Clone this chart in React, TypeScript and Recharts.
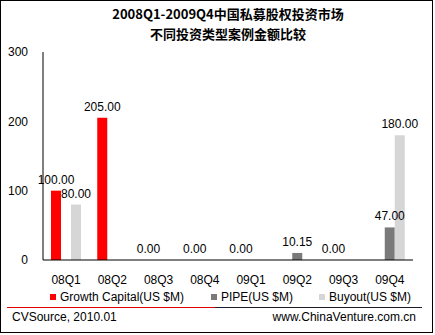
import { BarChart, Bar, XAxis, YAxis, LabelList } from 'recharts';

const quarters = ['08Q1', '08Q2', '08Q3', '08Q4', '09Q1', '09Q2', '09Q3', '09Q4'];
const growthCapital = [100, 205, 0, 0, 0, null, 0, null];
const pipe = [null, null, null, null, null, 10.15, null, 47];
const buyout = [80, null, null, null, null, null, null, 180];
const yTicks = [0, 100, 200, 300];

const data = quarters.map((q, i) => ({
  quarter: q,
  growth: growthCapital[i],
  pipe: pipe[i],
  buyout: buyout[i],
}));

const font = '"Liberation Sans", Arial, sans-serif';
const fmt = (v: any) => (v === null || v === undefined ? '' : Number(v).toFixed(2));
// zero-valued bars get a hair of height so their "0.00" label still shows
const zeroSize = (v: any) => (v === 0 ? 0.01 : 0);

const legendItems = [
  { name: 'Growth Capital(US $M)', color: '#ff0000', left: 50 },
  { name: 'PIPE(US $M)', color: '#7a7a7a', left: 211 },
  { name: 'Buyout(US $M)', color: '#d6d6d6', left: 319 },
];

export default function App() {
  return (
    <div style={{ position: 'absolute', left: 0, top: 0, width: 435, height: 335, background: '#fff', fontFamily: font }}>
      <div
        style={{
          position: 'absolute', left: 0, top: 0, width: 433, height: 333,
          border: '1px solid #000', boxSizing: 'border-box',
        }}
      />
      {/* title */}
      <div
        style={{
          position: 'absolute', left: 0, width: 456, top: 4, textAlign: 'center',
          fontFamily: '"Noto Sans CJK SC", sans-serif', fontWeight: 'bold', fontSize: 13, lineHeight: '20px',
          color: '#000',
        }}
      >
        <div>2008Q1-2009Q4中国私募股权投资市场</div>
        <div>不同投资类型案例金额比较</div>
      </div>

      <div style={{ position: 'absolute', left: 0, top: 0 }}>
        <BarChart
          width={435}
          height={335}
          data={data}
          margin={{ top: 52, right: 22, left: 0, bottom: 45 }}
          barGap={0}
          barSize={10}
        >
          <XAxis
            dataKey="quarter"
            axisLine={{ stroke: '#000' }}
            tickLine={false}
            tickSize={0}
            tickMargin={15}
            height={30}
            interval={0}
            tick={{ fill: '#000', fontSize: 12, fontFamily: font }}
          />
          <XAxis xAxisId="top" dataKey="quarter" orientation="top" height={0} tick={false} tickLine={false} axisLine={{ stroke: '#000' }} />
          <YAxis
            domain={[0, 300]}
            ticks={yTicks}
            axisLine={{ stroke: '#000' }}
            tickLine={false}
            tickSize={0}
            tickMargin={15}
            width={43}
            tick={{ fill: '#000', fontSize: 12, fontFamily: font }}
          />
          <YAxis yAxisId="right" orientation="right" domain={[0, 300]} width={0} tick={false} tickLine={false} axisLine={{ stroke: '#000' }} />
          <Bar dataKey="growth" fill="#ff0000" minPointSize={zeroSize} isAnimationActive={false}>
            <LabelList dataKey="growth" position="top" offset={7} formatter={fmt} style={{ fill: '#000', fontSize: 12, fontFamily: font }} />
          </Bar>
          <Bar dataKey="pipe" fill="#7a7a7a" isAnimationActive={false}>
            <LabelList dataKey="pipe" position="top" offset={7} formatter={fmt} style={{ fill: '#000', fontSize: 12, fontFamily: font }} />
          </Bar>
          <Bar dataKey="buyout" fill="#d6d6d6" isAnimationActive={false}>
            <LabelList dataKey="buyout" position="top" offset={7} formatter={fmt} style={{ fill: '#000', fontSize: 12, fontFamily: font }} />
          </Bar>
        </BarChart>
      </div>

      {/* legend */}
      {legendItems.map((it) => (
        <div key={it.name} style={{ position: 'absolute', left: it.left, top: 289, height: 16, display: 'flex', alignItems: 'center', fontSize: 12, color: '#000', whiteSpace: 'nowrap' }}>
          <span style={{ display: 'inline-block', width: 6, height: 6, background: it.color, marginRight: 4 }} />
          <span>{it.name}</span>
        </div>
      ))}

      {/* separator */}
      <div style={{ position: 'absolute', left: 7, top: 307, width: 208, height: 1, background: '#e00000' }} />
      <div style={{ position: 'absolute', left: 215, top: 307, width: 207, height: 1, background: '#1a1a2a' }} />

      {/* footer */}
      <div style={{ position: 'absolute', left: 12, top: 310, fontSize: 12, lineHeight: '14px', color: '#000' }}>CVSource, 2010.01</div>
      <div style={{ position: 'absolute', right: 19, top: 310, fontSize: 12, lineHeight: '14px', color: '#000' }}>www.ChinaVenture.com.cn</div>
    </div>
  );
}
